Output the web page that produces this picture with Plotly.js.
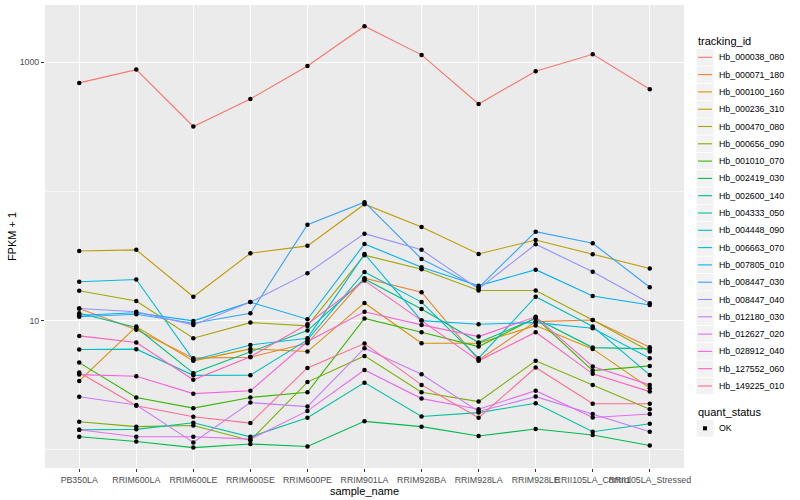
<!DOCTYPE html>
<html>
<head>
<meta charset="utf-8">
<script src="https://cdn.plot.ly/plotly-3.0.1.min.js"></script>
<style>html,body{margin:0;padding:0;background:#fff;}#chart{width:800px;height:500px;}</style>
</head>
<body>
<div id="chart"></div>
<script>
// x categories
const sampleNames = ['PB350LA','RRIM600LA','RRIM600LE','RRIM600SE','RRIM600PE','RRIM901LA','RRIM928BA','RRIM928LA','RRIM928LE','RRII105LA_Control','RRII105LA_Stressed'];

// tracking ids (legend order)
const trackingIds = ['Hb_000038_080','Hb_000071_180','Hb_000100_160','Hb_000236_310','Hb_000470_080','Hb_000656_090','Hb_001010_070','Hb_002419_030','Hb_002600_140','Hb_004333_050','Hb_004448_090','Hb_006663_070','Hb_007805_010','Hb_008447_030','Hb_008447_040','Hb_012180_030','Hb_012627_020','Hb_028912_040','Hb_127552_060','Hb_149225_010'];

// FPKM + 1 values per tracking id (same order as sampleNames)
const hb_000038_080 = [692, 877, 318, 520, 936, 1900, 1140, 475, 852, 1153, 618];
const hb_000071_180 = [12.4, 8.48, 5.12, 5.21, 6.68, 21.3, 16.6, 4.96, 9.82, 10.1, 6.23];
const hb_000100_160 = [3.41, 8.99, 4.88, 6.04, 5.76, 13.7, 6.68, 6.68, 9.15, 6.04, 3.00];
const hb_000236_310 = [34.6, 35.3, 15.3, 33.2, 37.9, 79.6, 53.1, 32.8, 42.1, 32.7, 25.3];
const hb_000470_080 = [17.0, 14.2, 7.31, 9.65, 9.10, 32.1, 25.0, 17.1, 17.1, 10.1, 5.76];
const hb_000656_090 = [1.65, 1.51, 1.54, 1.18, 3.34, 5.33, 2.79, 2.36, 4.88, 3.18, 2.06];
const hb_001010_070 = [4.73, 2.54, 2.10, 2.54, 2.79, 10.4, 8.13, 6.29, 10.5, 4.10, 4.46];
const hb_002419_030 = [1.26, 1.16, 1.04, 1.11, 1.06, 1.66, 1.51, 1.28, 1.45, 1.30, 1.08];
const hb_002600_140 = [11.4, 8.83, 3.92, 5.73, 8.37, 21.0, 12.3, 6.76, 10.4, 6.18, 6.04];
const hb_004333_050 = [1.43, 1.44, 1.62, 1.26, 1.77, 3.31, 1.81, 1.94, 2.29, 1.38, 1.59];
const hb_004448_090 = [5.97, 6.01, 3.77, 3.78, 7.09, 23.8, 13.9, 5.12, 15.3, 8.99, 3.80];
const hb_006663_070 = [20.0, 20.8, 4.96, 6.48, 7.31, 32.8, 10.0, 9.38, 9.65, 8.73, 5.12];
const hb_007805_010 = [11.0, 11.5, 9.95, 13.9, 10.25, 39.2, 25.9, 18.6, 24.8, 15.5, 13.2];
const hb_008447_030 = [10.7, 11.2, 9.55, 11.4, 55.3, 82.5, 30.0, 18.0, 48.8, 39.7, 18.1];
const hb_008447_040 = [12.4, 11.7, 9.26, 13.9, 23.3, 47.1, 35.3, 17.6, 39.0, 23.9, 13.6];
const hb_012180_030 = [2.57, 2.22, 1.14, 2.32, 2.16, 6.11, 3.84, 1.98, 2.58, 1.89, 1.38];
const hb_012627_020 = [1.43, 1.26, 1.26, 1.21, 2.00, 4.15, 2.49, 2.06, 2.87, 1.78, 1.89];
const hb_028912_040 = [3.82, 3.71, 2.72, 2.86, 6.88, 11.7, 9.26, 7.52, 10.7, 4.41, 3.18];
const hb_127552_060 = [7.61, 6.76, 3.48, 5.26, 9.38, 20.4, 10.0, 4.88, 8.13, 3.87, 2.82];
const hb_149225_010 = [3.96, 2.19, 1.80, 1.61, 4.30, 6.64, 3.18, 1.77, 4.33, 2.27, 2.27];

const seriesValues = [hb_000038_080, hb_000071_180, hb_000100_160, hb_000236_310, hb_000470_080, hb_000656_090, hb_001010_070, hb_002419_030, hb_002600_140, hb_004333_050, hb_004448_090, hb_006663_070, hb_007805_010, hb_008447_030, hb_008447_040, hb_012180_030, hb_012627_020, hb_028912_040, hb_127552_060, hb_149225_010];

// ggplot2 default hue palette for 20 groups
const palette = ['#F8766D','#EA8331','#D89000','#C09B00','#A3A500','#7CAE00','#39B600','#00BB4E','#00BF7D','#00C1A3','#00BFC4','#00BAE0','#00B0F6','#35A2FF','#9590FF','#C77CFF','#E76BF3','#FA62DB','#FF62BC','#FF6C91'];

const quantStatus = ['OK'];

const font = 'Liberation Sans, Arial, Helvetica, sans-serif';
const traces = [];
trackingIds.forEach((id, i) => {
  traces.push({
    type: 'scatter', mode: 'lines', x: sampleNames, y: seriesValues[i], name: id,
    line: {color: palette[i], width: 1.1}, showlegend: false, hoverinfo: 'skip'
  });
});
trackingIds.forEach((id, i) => {
  traces.push({
    type: 'scatter', mode: 'markers', x: sampleNames, y: seriesValues[i], name: quantStatus[0],
    marker: {color: '#000000', size: 4.5, symbol: 'circle'},
    showlegend: false, hoverinfo: 'skip'
  });
});

// ---- ggplot-style legends built in the right margin (paper coordinates) ----
const M = {l: 45, r: 116, t: 5, b: 32}, W = 800, H = 500;
const pw = W - M.l - M.r, ph = H - M.t - M.b;
const px = v => (v - M.l) / pw;
const py = v => (H - M.b - v) / ph;
const shapes = [], annotations = [];
const keyX0 = 696.5, keyX1 = 713.5, textX = 716.5, keyH = 17.3;
function addTitle(text, yPix) {
  annotations.push({xref: 'paper', yref: 'paper', x: px(696), y: py(yPix), xanchor: 'left', yanchor: 'middle',
    text: text, showarrow: false, font: {family: font, size: 11, color: '#000000'}});
}
function addKey(yc) {
  shapes.push({type: 'rect', xref: 'paper', yref: 'paper', x0: px(keyX0), x1: px(keyX1),
    y0: py(yc - keyH / 2 + 0.4), y1: py(yc + keyH / 2 - 0.4), fillcolor: '#F2F2F2', line: {width: 0}, layer: 'above'});
}
function addLabel(text, yc) {
  annotations.push({xref: 'paper', yref: 'paper', x: px(textX), y: py(yc), xanchor: 'left', yanchor: 'middle',
    text: text, showarrow: false, font: {family: font, size: 8.8, color: '#000000'}});
}
addTitle('tracking_id', 40.7);
trackingIds.forEach((id, i) => {
  const yc = 57.3 + i * keyH;
  addKey(yc);
  shapes.push({type: 'line', xref: 'paper', yref: 'paper', x0: px(698), x1: px(712), y0: py(yc), y1: py(yc),
    line: {color: palette[i], width: 1.1}, layer: 'above'});
  addLabel(id, yc);
});
addTitle('quant_status', 412.3);
quantStatus.forEach((s, i) => {
  const yc = 428.3 + i * keyH;
  addKey(yc);
  shapes.push({type: 'rect', xref: 'paper', yref: 'paper', x0: px(703), x1: px(707), y0: py(yc + 2), y1: py(yc - 2),
    fillcolor: '#000000', line: {width: 0}, layer: 'above'});
  addLabel(s, yc);
});

const layout = {
  width: W, height: H,
  margin: M,
  paper_bgcolor: '#FFFFFF', plot_bgcolor: '#EBEBEB',
  font: {family: font, color: '#000000'},
  showlegend: false,
  xaxis: {
    type: 'category', range: [-0.6, 10.6], tickangle: 0,
    showgrid: true, gridcolor: '#FFFFFF', gridwidth: 1.1, zeroline: false, showline: false,
    ticks: 'outside', ticklen: 3, tickcolor: '#333333', tickwidth: 1,
    tickfont: {family: font, size: 8.8, color: '#4D4D4D'},
    title: {text: 'sample_name', font: {family: font, size: 11, color: '#000000'}, standoff: 1},
    automargin: false
  },
  yaxis: {
    type: 'log', range: [-0.141, 3.443],
    tickvals: [10, 1000], ticktext: ['10', '1000'],
    showgrid: true, gridcolor: '#FFFFFF', gridwidth: 1.1, zeroline: false, showline: false,
    minor: {tickvals: [1, 100], showgrid: true, gridcolor: '#FFFFFF', gridwidth: 0.55, ticks: ''},
    ticks: 'outside', ticklen: 3, tickcolor: '#333333', tickwidth: 1,
    tickfont: {family: font, size: 8.8, color: '#4D4D4D'},
    title: {text: 'FPKM + 1', font: {family: font, size: 11, color: '#000000'}, standoff: 0},
    automargin: false
  },
  shapes: shapes,
  annotations: annotations
};

Plotly.newPlot('chart', traces, layout, {staticPlot: true, displayModeBar: false});
</script>
</body>
</html>
